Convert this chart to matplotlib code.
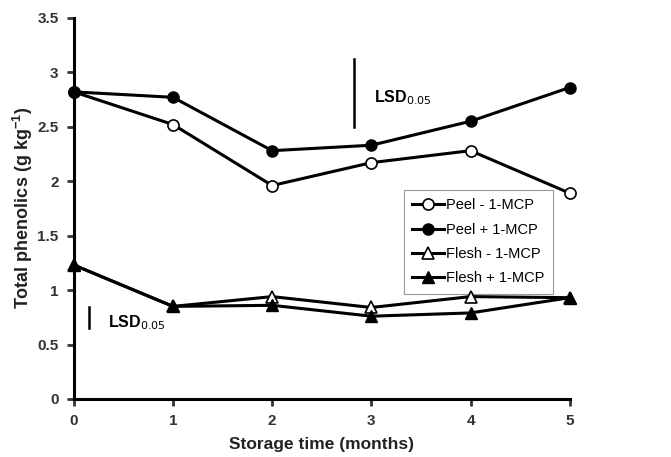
import matplotlib
matplotlib.use("Agg")
import matplotlib.pyplot as plt

plt.rcParams['font.family'] = ['Liberation Sans', 'DejaVu Sans']

months = [0, 1, 2, 3, 4, 5]
peel_minus = [2.82, 2.52, 1.96, 2.17, 2.28, 1.89]
peel_plus = [2.82, 2.77, 2.28, 2.33, 2.55, 2.86]
flesh_minus = [1.23, 0.85, 0.94, 0.84, 0.94, 0.93]
flesh_plus = [1.23, 0.85, 0.86, 0.76, 0.79, 0.93]

lsd_peel = (2.83, 2.50, 3.12)  # x, y bottom, y top
lsd_flesh = (0.15, 0.65, 0.84)

fig = plt.figure(figsize=(6.71, 4.57), dpi=100)
ax = fig.add_axes([0.110, 0.127, 0.739, 0.834])

ax.plot(months, peel_minus, color="black", lw=2.2, marker="o", ms=8,
        mfc="white", mec="black", mew=1.2, label="Peel - 1-MCP", clip_on=False, zorder=6)
ax.plot(months, peel_plus, color="black", lw=2.2, marker="o", ms=8,
        mfc="black", mec="black", label="Peel + 1-MCP", clip_on=False, zorder=6)
ax.plot(months, flesh_minus, color="black", lw=2.2, marker="^", ms=8,
        mfc="white", mec="black", mew=1.2, label="Flesh - 1-MCP", clip_on=False, zorder=6)
ax.plot(months, flesh_plus, color="black", lw=2.2, marker="^", ms=8,
        mfc="black", mec="black", label="Flesh + 1-MCP", clip_on=False, zorder=6)

# LSD bars
ax.plot([lsd_peel[0]] * 2, lsd_peel[1:], color="black", lw=1.8)
ax.text(3.03, 2.77, r"LSD$_{0.05}$", fontsize=11.5, fontweight="bold", va="center")
ax.plot([lsd_flesh[0]] * 2, lsd_flesh[1:], color="black", lw=1.8)
ax.text(0.34, 0.70, r"LSD$_{0.05}$", fontsize=11.5, fontweight="bold", va="center")

ax.set_xlim(0, 5)
ax.set_ylim(0, 3.5)
ax.set_xticks(months)
ax.set_yticks([0, 0.5, 1, 1.5, 2, 2.5, 3, 3.5])
ax.set_yticklabels(["0", "0.5", "1", "1.5", "2", "2.5", "3", "3.5"])
for lbl in ax.get_xticklabels() + ax.get_yticklabels():
    lbl.set_fontweight("bold")
ax.tick_params(labelsize=11, width=2, length=5, colors="#333333", labelcolor="#333333", pad=6)

for s in ["top", "right"]:
    ax.spines[s].set_visible(False)
for s in ["left", "bottom"]:
    ax.spines[s].set_linewidth(2.2)

ax.set_xlabel("Storage time (months)", fontsize=12.5, fontweight="bold", color="#222222", labelpad=6)
ax.set_ylabel(r"Total phenolics (g kg$^{\mathregular{-1}}$)", fontsize=13, fontweight="bold",
              color="#222222", labelpad=2)

leg = ax.legend(loc="upper left", bbox_to_anchor=(0.665, 0.549), borderaxespad=0,
                fontsize=10.5, frameon=True, fancybox=False, edgecolor="#999999",
                handlelength=2.2, handletextpad=0.1, borderpad=0.6, labelspacing=0.7,
                framealpha=1)
leg.get_frame().set_linewidth(0.8)
leg.set_zorder(5)

fig.savefig("out.png", dpi=100)
